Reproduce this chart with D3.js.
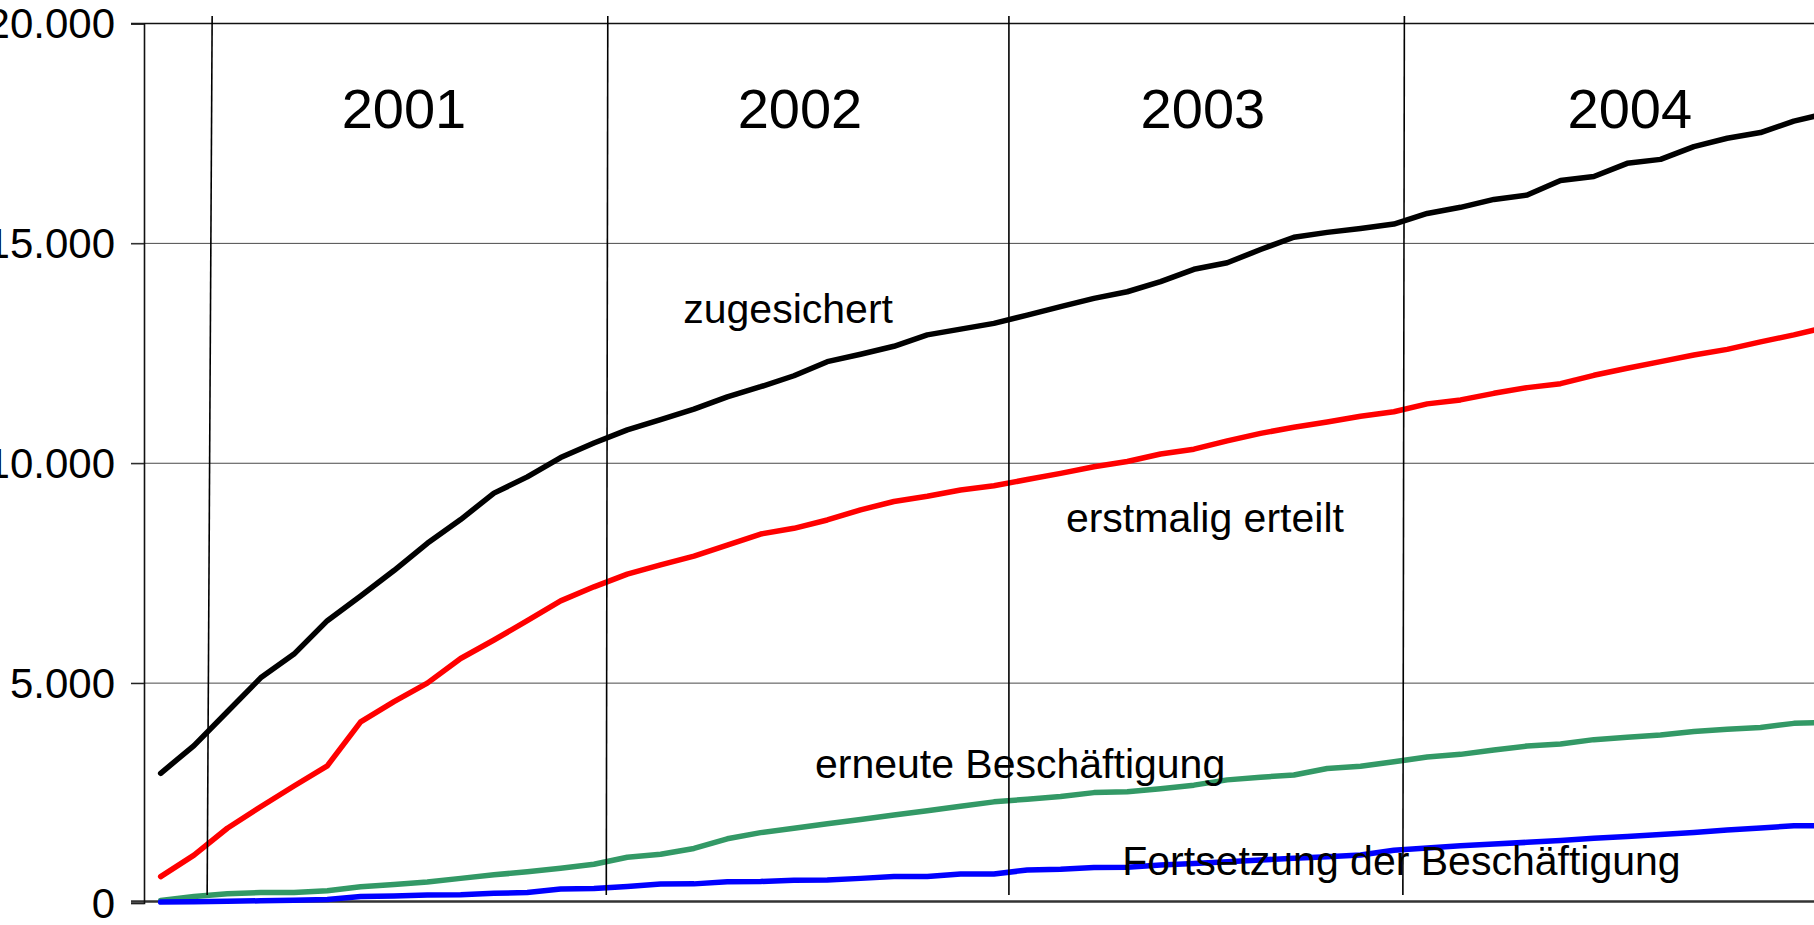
<!DOCTYPE html>
<html>
<head>
<meta charset="utf-8">
<script src="https://cdn.jsdelivr.net/npm/d3@7"></script>
<style>
  html, body { margin: 0; padding: 0; background: #fff; overflow: hidden; }
  svg { display: block; }
  text { font-family: "Liberation Sans", Arial, Helvetica, sans-serif; fill: #000; }
</style>
</head>
<body>
<script>
// ---- data ----
const months = [
  "Nov 2000","Dez 2000",
  "Jan 2001","Feb 2001","Mär 2001","Apr 2001","Mai 2001","Jun 2001","Jul 2001","Aug 2001","Sep 2001","Okt 2001","Nov 2001","Dez 2001",
  "Jan 2002","Feb 2002","Mär 2002","Apr 2002","Mai 2002","Jun 2002","Jul 2002","Aug 2002","Sep 2002","Okt 2002","Nov 2002","Dez 2002",
  "Jan 2003","Feb 2003","Mär 2003","Apr 2003","Mai 2003","Jun 2003","Jul 2003","Aug 2003","Sep 2003","Okt 2003","Nov 2003","Dez 2003",
  "Jan 2004","Feb 2004","Mär 2004","Apr 2004","Mai 2004","Jun 2004","Jul 2004","Aug 2004","Sep 2004","Okt 2004","Nov 2004","Dez 2004",
  "Jan 2005"
];
const zugesichert = [
  2950, 3580,
  4350, 5120, 5660, 6420, 6980, 7560, 8180, 8720, 9320, 9690, 10130, 10460,
  10760, 10990, 11230, 11510, 11740, 11990, 12310, 12480, 12660, 12920, 13050, 13180,
  13370, 13560, 13750, 13900, 14130, 14410, 14560, 14860, 15140, 15250, 15340, 15440,
  15680, 15820, 16000, 16100, 16430, 16520, 16820, 16910, 17200, 17390, 17520, 17780,
  17960
];
const erstmaligErteilt = [
  600, 1090,
  1700, 2190, 2660, 3120, 4120, 4580, 5000, 5560, 5980, 6420, 6870, 7190,
  7480, 7690, 7890, 8140, 8390, 8520, 8710, 8940, 9130, 9250, 9390, 9490,
  9630, 9770, 9920, 10040, 10210, 10320, 10510, 10680, 10820, 10940, 11070, 11170,
  11350, 11440, 11590, 11720, 11810, 12000, 12160, 12310, 12460, 12590, 12760, 12920,
  13100
];
const erneuteBeschaeftigung = [
  60, 150,
  210, 240, 240, 280, 370, 420, 480, 560, 640, 710, 790, 880,
  1040, 1110, 1240, 1460, 1600, 1700, 1800, 1900, 2000, 2100, 2200, 2300,
  2360, 2420, 2510, 2530, 2600, 2680, 2800, 2860, 2910, 3060, 3110, 3210,
  3320, 3380, 3480, 3570, 3615, 3715, 3770, 3820, 3900, 3950, 3990, 4085,
  4110
];
const fortsetzungBeschaeftigung = [
  20, 30,
  40, 50, 60, 80, 150, 160, 180, 190, 220, 240, 320, 330,
  375, 430, 435, 485, 490, 520, 525, 560, 600, 600, 660, 660,
  750, 765, 810, 815, 865, 900, 940, 980, 1015, 1050, 1090, 1200,
  1250, 1300, 1340, 1380, 1420, 1470, 1510, 1560, 1605, 1660, 1705, 1755,
  1760
];
const seriesNames = ["zugesichert", "erstmalig erteilt", "erneute Beschäftigung", "Fortsetzung der Beschäftigung"];
const seriesColors = ["#000000", "#ff0000", "#339966", "#0000ff"];
const years = ["2001", "2002", "2003", "2004"];
const yTicks = [0, 5000, 10000, 15000, 20000];
const yTickLabels = ["0", "5.000", "10.000", "15.000", "20.000"];

// ---- layout ----
const W = 1814, H = 925;
const svg = d3.select("body").append("svg").attr("width", W).attr("height", H);

const step = 33.33;
const x = d3.scaleLinear().domain([-0.5, months.length - 0.5]).range([144, 144 + months.length * step]);
const y = d3.scaleLinear().domain([0, 20000]).range([903, 23.5]);

const left = 144, tickLeft = 131;

// horizontal gridlines
svg.append("g").selectAll("line").data(yTicks.filter(t => t > 0 && t < 20000)).join("line")
  .attr("x1", tickLeft).attr("x2", W)
  .attr("y1", d => y(d)).attr("y2", d => y(d))
  .attr("stroke", "#4a4a4a").attr("stroke-width", 1);

// top line
svg.append("line").attr("x1", tickLeft).attr("x2", W)
  .attr("y1", y(20000)).attr("y2", y(20000))
  .attr("stroke", "#111").attr("stroke-width", 1.6);

// bottom axis line
svg.append("line").attr("x1", tickLeft).attr("x2", W)
  .attr("y1", y(0) - 1.5).attr("y2", y(0) - 1.5)
  .attr("stroke", "#333").attr("stroke-width", 2.5);

// y axis
const yAxis = d3.axisLeft(y).tickValues(yTicks)
  .tickFormat((d, i) => yTickLabels[i]).tickSize(13).tickPadding(16);
const gy = svg.append("g").attr("transform", `translate(${left},0)`).call(yAxis);
gy.select(".domain").attr("stroke", "#111").attr("stroke-width", 1.6);
gy.selectAll(".tick line").attr("stroke", "#222").attr("stroke-width", 1.2);
gy.selectAll(".tick text")
  .style("font-family", '"Liberation Sans", Arial, sans-serif')
  .style("font-size", "42px").attr("fill", "#000").attr("dy", "0.34em");

// series lines
const allSeries = [zugesichert, erstmaligErteilt, erneuteBeschaeftigung, fortsetzungBeschaeftigung];
const line = d3.line().x((d, i) => x(i)).y(d => y(d));
const drawOrder = [2, 3, 1, 0];
drawOrder.forEach(k => {
  svg.append("path").datum(allSeries[k])
    .attr("d", line)
    .attr("fill", "none")
    .attr("stroke", seriesColors[k])
    .attr("stroke-width", 5.5)
    .attr("stroke-linejoin", "round")
    .attr("stroke-linecap", "round");
});

// series labels (positioned in chart coordinates: month index, value)
const labelPos = [[15.68, 13195], [27.16, 8443], [19.63, 2842], [28.85, 637]];
seriesNames.forEach((name, k) => {
  svg.append("text")
    .attr("x", x(labelPos[k][0])).attr("y", y(labelPos[k][1]))
    .style("font-size", "41px")
    .text(name);
});

// year separators (between December and January)
const sepIdx = [1.5, 13.4, 25.45, 37.3];
const sepSlant = [[1.5, -3.5], [0.5, -1], [0, 0], [0.5, -1]];
sepIdx.forEach((s, i) => {
  svg.append("line")
    .attr("x1", x(s) + sepSlant[i][0]).attr("x2", x(s) + sepSlant[i][1])
    .attr("y1", y(20000) - 7.5).attr("y2", y(0) - 8)
    .attr("stroke", "#000").attr("stroke-width", 1.6);
});

// year labels
const yearIdx = [7.3, 19.18, 31.27, 44.08];
years.forEach((yr, i) => {
  svg.append("text")
    .attr("x", x(yearIdx[i])).attr("y", 128)
    .attr("text-anchor", "middle")
    .style("font-size", "56px")
    .text(yr);
});
</script>
</body>
</html>
